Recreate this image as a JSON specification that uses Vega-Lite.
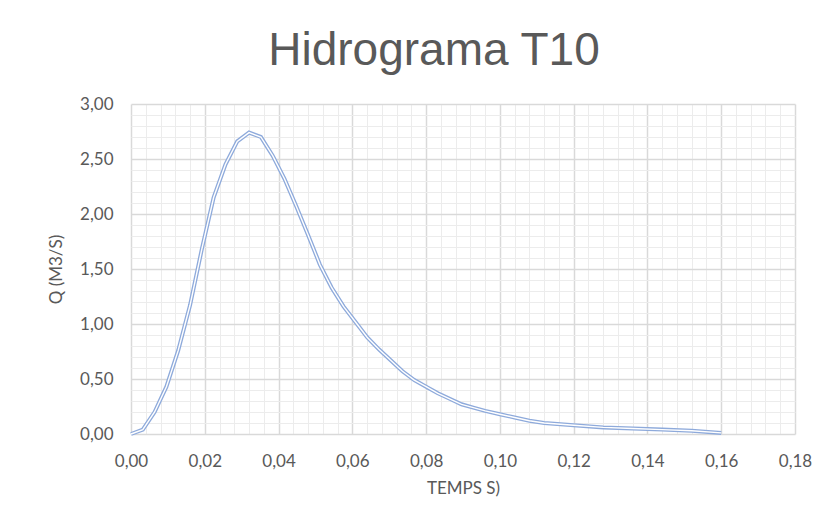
{
  "$schema": "https://vega.github.io/schema/vega-lite/v6.json",
  "width": 664,
  "height": 330,
  "autosize": "none",
  "padding": {"left": 131, "top": 104, "right": 31, "bottom": 97},
  "background": "white",
  "config": {"view": {"stroke": null}, "font": "Lato"},
  "title": {"text": "Hidrograma T10", "font": "Liberation Sans", "fontSize": 46, "fontWeight": "normal", "color": "#595959", "anchor": "middle", "dx": -29, "offset": 20},
  "data": {"values": [
    {"t": 0, "q": 0},
    {"t": 0.0032, "q": 0.04},
    {"t": 0.0064, "q": 0.20},
    {"t": 0.0096, "q": 0.43},
    {"t": 0.0128, "q": 0.76},
    {"t": 0.016, "q": 1.17},
    {"t": 0.0192, "q": 1.68},
    {"t": 0.0224, "q": 2.15},
    {"t": 0.0256, "q": 2.45},
    {"t": 0.0288, "q": 2.66},
    {"t": 0.032, "q": 2.74},
    {"t": 0.0352, "q": 2.70},
    {"t": 0.0384, "q": 2.53},
    {"t": 0.0416, "q": 2.32},
    {"t": 0.0448, "q": 2.07},
    {"t": 0.048, "q": 1.81},
    {"t": 0.0512, "q": 1.54},
    {"t": 0.0544, "q": 1.33},
    {"t": 0.0576, "q": 1.16},
    {"t": 0.0608, "q": 1.02},
    {"t": 0.064, "q": 0.88},
    {"t": 0.0672, "q": 0.77},
    {"t": 0.0704, "q": 0.67},
    {"t": 0.0736, "q": 0.57},
    {"t": 0.0768, "q": 0.49},
    {"t": 0.08, "q": 0.43},
    {"t": 0.0832, "q": 0.37},
    {"t": 0.0864, "q": 0.32},
    {"t": 0.0896, "q": 0.27},
    {"t": 0.0928, "q": 0.24},
    {"t": 0.096, "q": 0.21},
    {"t": 0.1, "q": 0.18},
    {"t": 0.104, "q": 0.15},
    {"t": 0.108, "q": 0.12},
    {"t": 0.112, "q": 0.10},
    {"t": 0.12, "q": 0.08},
    {"t": 0.128, "q": 0.06},
    {"t": 0.136, "q": 0.05},
    {"t": 0.144, "q": 0.04},
    {"t": 0.152, "q": 0.03},
    {"t": 0.16, "q": 0.01}
  ]},
  "layer": [
    {
      "mark": {"type": "line", "color": "#8eaadb", "strokeWidth": 4},
      "encoding": {
        "x": {"field": "t", "type": "quantitative", "scale": {"domain": [0, 0.18], "nice": false, "zero": false},
          "axis": {"orient": "top", "values": [0.004, 0.008, 0.012, 0.016, 0.024, 0.028, 0.032, 0.036, 0.044, 0.048, 0.052, 0.056, 0.064, 0.068, 0.072, 0.076, 0.084, 0.088, 0.092, 0.096, 0.104, 0.108, 0.112, 0.116, 0.124, 0.128, 0.132, 0.136, 0.144, 0.148, 0.152, 0.156, 0.164, 0.168, 0.172, 0.176],
            "grid": true, "gridColor": "#ececec", "gridWidth": 1, "labels": false, "ticks": false, "domain": false, "title": null}},
        "y": {"field": "q", "type": "quantitative", "scale": {"domain": [0, 3], "nice": false},
          "axis": {"orient": "right", "values": [0.1, 0.2, 0.3, 0.4, 0.6, 0.7, 0.8, 0.9, 1.1, 1.2, 1.3, 1.4, 1.6, 1.7, 1.8, 1.9, 2.1, 2.2, 2.3, 2.4, 2.6, 2.7, 2.8, 2.9],
            "grid": true, "gridColor": "#ececec", "gridWidth": 1, "labels": false, "ticks": false, "domain": false, "title": null}}
      }
    },
    {
      "mark": {"type": "line", "color": "white", "strokeWidth": 1.4},
      "encoding": {
        "x": {"field": "t", "type": "quantitative", "scale": {"domain": [0, 0.18], "nice": false, "zero": false},
          "axis": {"orient": "bottom", "values": [0, 0.02, 0.04, 0.06, 0.08, 0.1, 0.12, 0.14, 0.16, 0.18],
            "grid": true, "gridColor": "#d9d9d9", "gridWidth": 1.5, "ticks": false, "domain": false,
            "labelExpr": "replace(format(datum.value, '.2f'), '.', ',')",
            "labelFont": "Lato", "labelFontSize": 17, "labelColor": "#595959", "labelPadding": 19, "labelFlush": false, "labelOverlap": false,
            "title": "TEMPS S)", "titleFont": "Lato", "titleFontSize": 17, "titleFontWeight": "normal", "titleColor": "#595959", "titlePadding": 11}},
        "y": {"field": "q", "type": "quantitative", "scale": {"domain": [0, 3], "nice": false},
          "axis": {"orient": "left", "values": [0, 0.5, 1, 1.5, 2, 2.5, 3],
            "grid": true, "gridColor": "#d9d9d9", "gridWidth": 1.5, "ticks": false, "domain": false,
            "labelExpr": "replace(format(datum.value, '.2f'), '.', ',')",
            "labelFont": "Lato", "labelFontSize": 17, "labelColor": "#595959", "labelPadding": 18, "labelFlush": false, "labelOverlap": false,
            "title": "Q (M3/S)", "titleFont": "Lato", "titleFontSize": 17, "titleFontWeight": "normal", "titleColor": "#595959", "titlePadding": 14}}
      }
    }
  ],
  "resolve": {"axis": {"x": "independent", "y": "independent"}}
}
